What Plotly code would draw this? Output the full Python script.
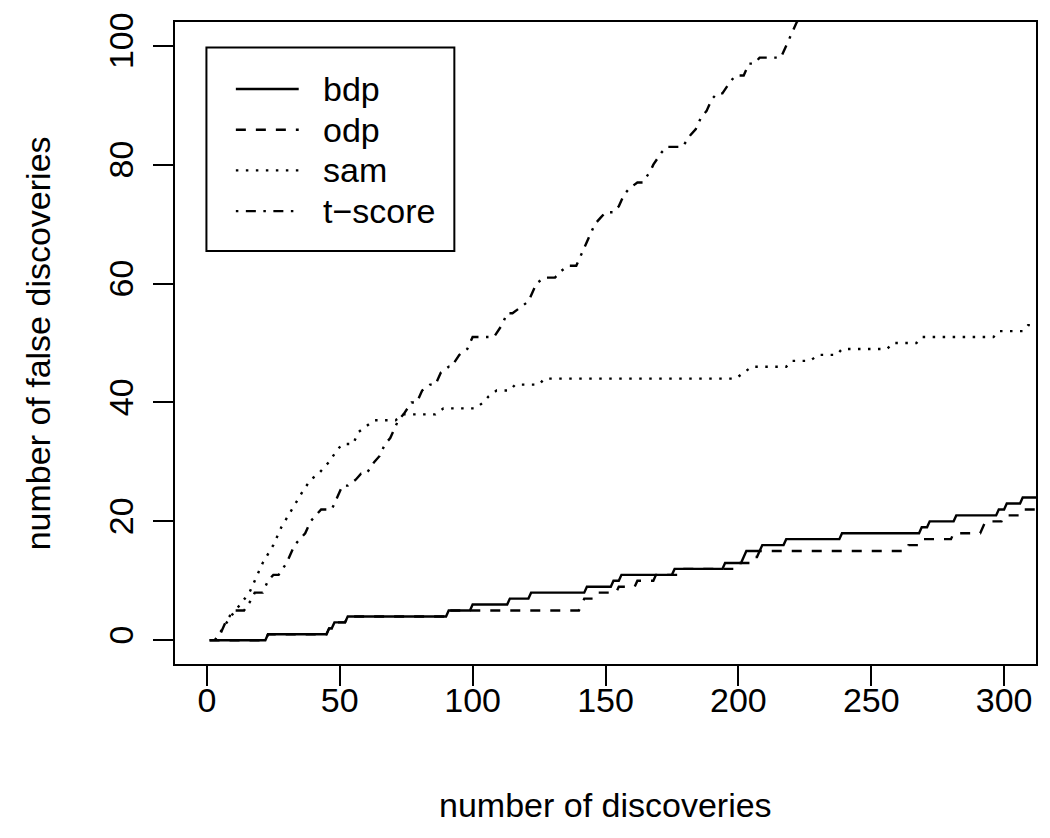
import plotly.graph_objects as go

# ---- data ----
bdp_x = [1, 22, 23, 45, 46, 47, 48, 52, 53, 90, 91, 99, 100, 113, 114, 121, 122, 142, 143, 152,
         153, 155, 156, 175, 176, 194, 195, 201, 202, 203, 208, 209, 217, 218, 238, 239, 268, 269,
         271, 272, 281, 282, 297, 298, 300, 301, 306, 307, 312]
bdp_y = [0, 0, 1, 1, 2, 2, 3, 3, 4, 4, 5, 5, 6, 6, 7, 7, 8, 8, 9, 9,
         10, 10, 11, 11, 12, 12, 13, 13, 14, 15, 15, 16, 16, 17, 17, 18, 18, 19,
         19, 20, 20, 21, 21, 22, 22, 23, 23, 24, 24]

odp_x = [1, 22, 23, 45, 46, 47, 48, 52, 53, 90, 91, 140, 141, 142, 146, 147, 154, 155, 161, 162,
         168, 169, 178, 179, 199, 200, 205, 206, 207, 208, 263, 264, 268, 269, 280, 281, 291, 292,
         293, 299, 300, 306, 307, 312]
odp_y = [0, 0, 1, 1, 2, 2, 3, 3, 4, 4, 5, 5, 6, 7, 7, 8, 8, 9, 9, 10,
         10, 11, 11, 12, 12, 13, 13, 14, 14, 15, 15, 16, 16, 17, 17, 18, 18, 19,
         20, 20, 21, 21, 22, 22]

sam_x = [3, 9, 16, 19, 21, 25, 28, 32, 36, 39, 42, 46, 49, 51, 55, 57, 60, 63, 71, 74,
         86, 89, 101, 104, 106, 109, 114, 116, 125, 127, 199, 202, 205, 218, 220, 227, 230, 237,
         239, 256, 258, 267, 269, 296, 298, 307, 309, 312]
sam_y = [0, 4, 8, 11, 13, 16, 19, 22, 25, 27, 28, 30, 32, 33, 33, 35, 36, 37, 37, 38,
         38, 39, 39, 40, 41, 42, 42, 43, 43, 44, 44, 45, 46, 46, 47, 47, 48, 48,
         49, 49, 50, 50, 51, 51, 52, 52, 53, 53]

ts_x = [3, 5, 7, 10, 14, 17, 18, 21, 23, 25, 27, 30, 33, 35, 37, 39, 41, 43, 47, 49,
        51, 53, 56, 58, 60, 63, 65, 67, 69, 71, 72, 74, 77, 79, 81, 84, 86, 88, 91, 92,
        95, 98, 100, 108, 111, 113, 115, 118, 121, 123, 124, 127, 131, 133, 136, 139, 141, 143,
        145, 146, 148, 150, 153, 155, 157, 159, 162, 164, 167, 168, 171, 173, 179, 182, 184,
        186, 188, 190, 192, 194, 197, 199, 202, 204, 206, 208, 216, 218, 220, 222, 224]
ts_y = [0, 1, 3, 5, 5, 7, 8, 8, 10, 11, 11, 13, 16, 17, 18, 20, 21, 22, 22, 24,
        26, 26, 27, 28, 28, 30, 31, 33, 34, 36, 37, 38, 40, 40, 42, 43, 43, 45, 46, 46,
        48, 49, 51, 51, 53, 55, 55, 56, 57, 59, 60, 61, 61, 62, 63, 63, 65, 67,
        69, 70, 71, 72, 72, 73, 75, 76, 77, 77, 79, 80, 82, 83, 83, 85, 86,
        88, 89, 91, 92, 92, 94, 95, 95, 97, 97, 98, 98, 100, 102, 104, 105]

series_names = ["bdp", "odp", "sam", "t\u2212score"]
x_ticks = [0, 50, 100, 150, 200, 250, 300]
y_ticks = [0, 20, 40, 60, 80, 100]

# ---- styles ----
# the page body has an 8px margin, so the figure is shrunk/shifted to land the
# plot region at screen x 175..1038, y 22..664
W, H = 1034, 822
L, R, T, B = 167, 4, 14, 166
FONT = "Liberation Sans, Arial, Helvetica, sans-serif"
FS = 34
LW = 2.4
dashes = ["solid", "10px,10px", "2.5px,7.5px", "2.5px,7.5px,10px,7.5px"]

fig = go.Figure()
for (xs, ys), name, d in zip([(bdp_x, bdp_y), (odp_x, odp_y), (sam_x, sam_y), (ts_x, ts_y)],
                             series_names, dashes):
    fig.add_trace(go.Scatter(x=xs, y=ys, mode="lines", name=name,
                             line=dict(color="black", width=LW, dash=d),
                             showlegend=False, hoverinfo="skip"))

# screen-pixel -> paper helpers (plot region on screen: x 175..1038, y 22..664)
SX0, SX1, SY0, SY1 = 175, 1038, 22, 664
def px2x(p):
    return (p - SX0) / (SX1 - SX0)
def py2y(p):
    return (SY1 - p) / (SY1 - SY0)

shapes = []
annotations = []
# legend box
shapes.append(dict(type="rect", xref="paper", yref="paper",
                   x0=px2x(206.5), x1=px2x(455), y0=py2y(251), y1=py2y(47.5),
                   line=dict(color="black", width=2), fillcolor="white", layer="above"))
rows = [89, 129.7, 170.4, 211.1]
for name, d, r in zip(series_names, dashes, rows):
    shapes.append(dict(type="line", xref="paper", yref="paper",
                       x0=px2x(236), x1=px2x(299), y0=py2y(r), y1=py2y(r),
                       line=dict(color="black", width=LW, dash=d), layer="above"))
    annotations.append(dict(text=name, xref="paper", yref="paper", x=px2x(321), y=py2y(r),
                            xanchor="left", yanchor="middle", showarrow=False,
                            font=dict(family=FONT, size=FS, color="black")))

# axis titles
annotations.append(dict(text="number of discoveries", xref="paper", yref="paper",
                        x=0.5, y=py2y(805), xanchor="center", yanchor="middle",
                        showarrow=False, font=dict(family=FONT, size=FS, color="black")))
annotations.append(dict(text="number of false discoveries", xref="paper", yref="paper",
                        x=px2x(38), y=0.5, xanchor="center", yanchor="middle", textangle=-90,
                        showarrow=False, font=dict(family=FONT, size=FS, color="black")))

axis_common = dict(showgrid=False, zeroline=False, showline=True, mirror=True,
                   linecolor="black", linewidth=2, ticks="outside", ticklen=20,
                   tickwidth=2, tickcolor="black",
                   tickfont=dict(family=FONT, size=FS, color="black"))

fig.update_layout(
    width=W, height=H,
    margin=dict(l=L, r=R, t=T, b=B, pad=0),
    paper_bgcolor="white", plot_bgcolor="white",
    xaxis=dict(range=[-12, 312], tickvals=x_ticks, ticktext=[str(v) for v in x_ticks],
               ticklabelstandoff=-15, **axis_common),
    yaxis=dict(range=[-4, 104], tickvals=y_ticks, ticktext=[str(v) for v in y_ticks],
               tickangle=-90, ticklabelstandoff=6, **axis_common),
    shapes=shapes, annotations=annotations,
    showlegend=False,
)

fig.write_html("out.html")
